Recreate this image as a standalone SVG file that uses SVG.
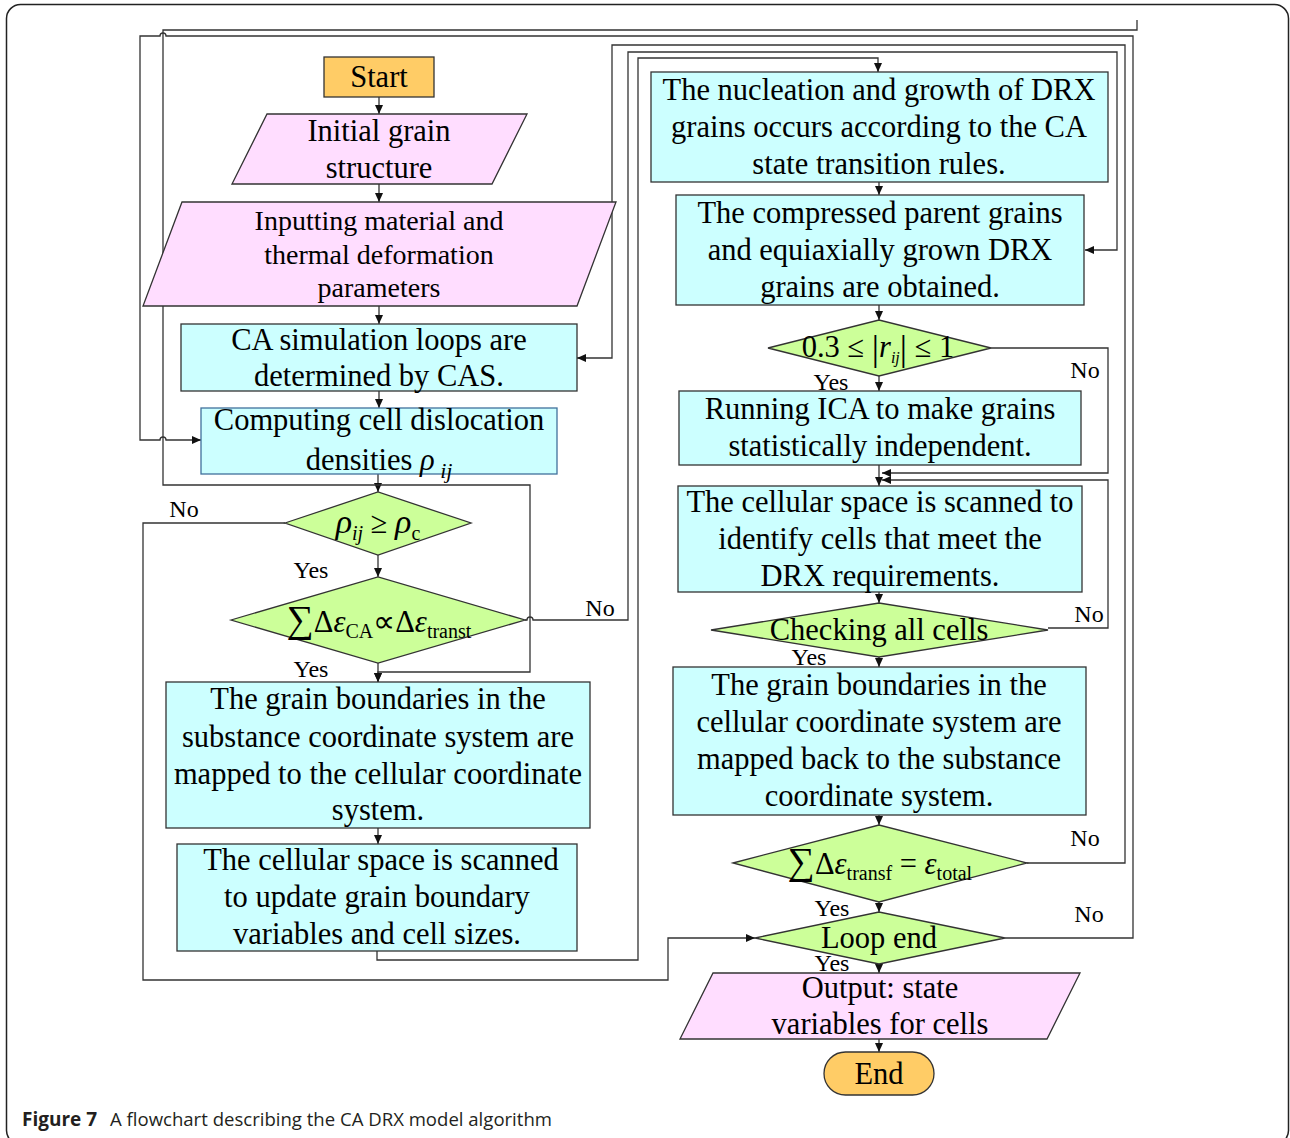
<svg xmlns="http://www.w3.org/2000/svg" width="1290" height="1138" viewBox="0 0 1290 1138">
<defs>
<marker id="ah" markerUnits="userSpaceOnUse" markerWidth="10" markerHeight="8" refX="9" refY="4" orient="auto">
<path d="M0,0 L9,4 L0,8 Z" fill="#111"/>
</marker>
<style>
.box{fill:#CCFFFF;stroke:#333;stroke-width:1.3}
.io{fill:#FFDDFF;stroke:#333;stroke-width:1.3}
.dec{fill:#CCFF99;stroke:#333;stroke-width:1.3}
.term{fill:#FFCC66;stroke:#333;stroke-width:1.3}
.t{font-family:"Liberation Serif","Times New Roman",serif;font-size:30.5px;fill:#000;text-anchor:middle}
.t28{font-family:"Liberation Serif","Times New Roman",serif;font-size:28px;fill:#000;text-anchor:middle}
.lab{font-family:"Liberation Serif","Times New Roman",serif;font-size:24px;fill:#000;text-anchor:middle}
.c{fill:none;stroke:#333;stroke-width:1.3}
.ca{fill:none;stroke:#333;stroke-width:1.3;marker-end:url(#ah)}
.cap{font-family:"Open Sans","Noto Sans","Liberation Sans",sans-serif;font-size:19px;fill:#231F20}
</style>
</defs>
<rect x="6.5" y="4.5" width="1282" height="1140" rx="14" fill="#fff" stroke="#222" stroke-width="1.5"/>

<g id="connectors">
<path class="ca" d="M379 97 V114"/>
<path class="ca" d="M379 184 V202"/>
<path class="ca" d="M379 306 V324"/>
<path class="ca" d="M379 391 V408"/>
<path class="ca" d="M378 474 V492"/>
<path class="ca" d="M378 555 V577"/>
<path class="ca" d="M378 663 V682"/>
<path class="ca" d="M378 828 V844"/>
<path class="ca" d="M377 951 V960 H638 V58 H878 V72"/>
<path class="ca" d="M285 523 H143 V980 H668 V938 H755"/>
<path class="ca" d="M525 620 H527 A3 3 0 0 1 533 620 H628 V52 H1117 V250 H1085"/>
<path class="ca" d="M1027 863 H1125 V45 H612 V358 H577"/>
<path class="ca" d="M1005 938 H1133 V36 H166 A3 3 0 0 0 160 36 H140 V440 H160 A3 3 0 0 1 166 440 H201"/>
<path class="ca" d="M1137 20 V30 H163 V485 H530 V672 H378 V682"/>
<path class="ca" d="M879 182 V195"/>
<path class="ca" d="M879 305 V320"/>
<path class="ca" d="M879 376 V391"/>
<path class="ca" d="M991 348 H1108 V473 H882"/>
<path class="ca" d="M879 465 V486"/>
<path class="ca" d="M1048 628 H1108 V480 H882"/>
<path class="ca" d="M879 592 V603"/>
<path class="ca" d="M879 657 V667"/>
<path class="ca" d="M879 815 V825"/>
<path class="ca" d="M879 902 V912"/>
<path class="ca" d="M879 964 V973"/>
<path class="ca" d="M879 1039 V1052"/>
</g>

<g id="labels">
<text class="lab" x="184" y="517">No</text>
<text class="lab" x="311" y="578">Yes</text>
<text class="lab" x="600" y="616">No</text>
<text class="lab" x="311" y="677">Yes</text>
<text class="lab" x="831" y="390">Yes</text>
<text class="lab" x="1085" y="378">No</text>
<text class="lab" x="1089" y="622">No</text>
<text class="lab" x="809" y="665">Yes</text>
<text class="lab" x="1085" y="846">No</text>
<text class="lab" x="832" y="916">Yes</text>
<text class="lab" x="1089" y="922">No</text>
<text class="lab" x="832" y="971">Yes</text>
</g>

<g id="start">
<rect class="term" x="324" y="57" width="110" height="40"/>
<text class="t" x="379" y="87">Start</text>
</g>
<g id="initial">
<polygon class="io" points="267,114 527,114 492,184 232,184"/>
<text class="t" x="379" y="141">Initial grain</text>
<text class="t" x="379" y="178">structure</text>
</g>
<g id="inputting">
<polygon class="io" points="182,202 616,202 577,306 143,306"/>
<text class="t28" x="379" y="230">Inputting material and</text>
<text class="t28" x="379" y="264">thermal deformation</text>
<text class="t28" x="379" y="297">parameters</text>
</g>
<g id="ca-loops">
<rect class="box" x="181" y="324" width="396" height="67"/>
<text class="t" x="379" y="350">CA simulation loops are</text>
<text class="t" x="379" y="386">determined by CAS.</text>
</g>
<g id="computing">
<rect class="box" x="201" y="408" width="356" height="66" style="stroke:#41719C"/>
<text class="t" x="379" y="430">Computing cell dislocation</text>
<text class="t" x="379" y="470">densities <tspan font-style="italic">ρ</tspan><tspan font-style="italic" font-size="22" dy="8"> ij</tspan></text>
</g>
<g id="rho-check">
<polygon class="dec" points="285,523 378,492 471,523 378,555"/>
<text class="t" x="378" y="533"><tspan font-style="italic" font-size="34">ρ</tspan><tspan font-style="italic" font-size="20" dy="7">ij</tspan><tspan dy="-7"> ≥ </tspan><tspan font-style="italic" font-size="34">ρ</tspan><tspan font-size="20" dy="7">c</tspan></text>
</g>
<g id="strain-check">
<polygon class="dec" points="231,620 378,577 525,620 378,663"/>
<text class="t" x="379" y="632" font-size="32"><tspan font-size="38">∑</tspan>Δ<tspan font-style="italic">ε</tspan><tspan font-size="20" dy="6">CA</tspan><tspan dy="-6">∝Δ</tspan><tspan font-style="italic">ε</tspan><tspan font-size="20" dy="6">transt</tspan></text>
</g>
<g id="gb-map">
<rect class="box" x="166" y="682" width="424" height="146"/>
<text class="t" x="378" y="709">The grain boundaries in the</text>
<text class="t" x="378" y="747">substance coordinate system are</text>
<text class="t" x="378" y="784">mapped to the cellular coordinate</text>
<text class="t" x="378" y="820">system.</text>
</g>
<g id="scan-update">
<rect class="box" x="177" y="844" width="400" height="107"/>
<text class="t" x="381" y="870">The cellular space is scanned</text>
<text class="t" x="377" y="907">to update grain boundary</text>
<text class="t" x="377" y="944">variables and cell sizes.</text>
</g>

<g id="nucleation">
<rect class="box" x="651" y="72" width="457" height="110"/>
<text class="t" x="879" y="100">The nucleation and growth of DRX</text>
<text class="t" x="879" y="137">grains occurs according to the CA</text>
<text class="t" x="879" y="174">state transition rules.</text>
</g>
<g id="compressed">
<rect class="box" x="676" y="195" width="408" height="110"/>
<text class="t" x="880" y="223">The compressed parent grains</text>
<text class="t" x="880" y="260">and equiaxially grown DRX</text>
<text class="t" x="880" y="297">grains are obtained.</text>
</g>
<g id="r-check">
<polygon class="dec" points="768,348 879,320 991,348 879,376"/>
<text class="t" x="878" y="357" font-size="26">0.3 ≤ <tspan font-size="36" dy="3">|</tspan><tspan font-style="italic" dy="-3">r</tspan><tspan font-style="italic" font-size="16" dy="6">ij</tspan><tspan font-size="36" dy="-3">|</tspan><tspan dy="-3"> ≤ 1</tspan></text>
</g>
<g id="ica">
<rect class="box" x="679" y="391" width="402" height="74"/>
<text class="t" x="880" y="419">Running ICA to make grains</text>
<text class="t" x="880" y="456">statistically independent.</text>
</g>
<g id="scan-identify">
<rect class="box" x="678" y="486" width="404" height="106"/>
<text class="t" x="880" y="512">The cellular space is scanned to</text>
<text class="t" x="880" y="549">identify cells that meet the</text>
<text class="t" x="880" y="586">DRX requirements.</text>
</g>
<g id="check-all">
<polygon class="dec" points="711,630 879,603 1048,630 879,657"/>
<text class="t" x="879" y="640">Checking all cells</text>
</g>
<g id="gb-back">
<rect class="box" x="673" y="667" width="413" height="148"/>
<text class="t" x="879" y="695">The grain boundaries in the</text>
<text class="t" x="879" y="732">cellular coordinate system are</text>
<text class="t" x="879" y="769">mapped back to the substance</text>
<text class="t" x="879" y="806">coordinate system.</text>
</g>
<g id="total-check">
<polygon class="dec" points="733,863 879,825 1027,863 879,902"/>
<text class="t" x="880" y="874" font-size="32"><tspan font-size="38">∑</tspan>Δ<tspan font-style="italic">ε</tspan><tspan font-size="20" dy="6">transf</tspan><tspan dy="-6"> = </tspan><tspan font-style="italic">ε</tspan><tspan font-size="20" dy="6">total</tspan></text>
</g>
<g id="loop-end">
<polygon class="dec" points="755,938 879,912 1005,938 879,964"/>
<text class="t" x="879" y="948">Loop end</text>
</g>
<g id="output">
<polygon class="io" points="713,973 1080,973 1047,1039 680,1039"/>
<text class="t" x="880" y="998">Output: state</text>
<text class="t" x="880" y="1034">variables for cells</text>
</g>
<g id="end">
<rect class="term" x="824" y="1052" width="110" height="43" rx="21.5"/>
<text class="t" x="879" y="1084">End</text>
</g>

<g id="caption">
<text class="cap" x="22" y="1126" font-weight="bold" textLength="75" lengthAdjust="spacingAndGlyphs">Figure 7</text>
<text class="cap" x="110" y="1126" textLength="442" lengthAdjust="spacingAndGlyphs">A flowchart describing the CA DRX model algorithm</text>
</g>
</svg>
